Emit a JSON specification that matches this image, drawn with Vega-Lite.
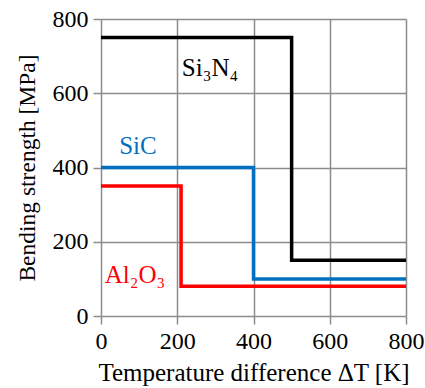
{
  "$schema": "https://vega.github.io/schema/vega-lite/v6.json",
  "autosize": {"type": "none"},
  "width": 305,
  "height": 297,
  "padding": {"left": 101, "top": 19, "right": 19, "bottom": 72},
  "background": "white",
  "config": {
    "view": {"stroke": null},
    "font": "Liberation Serif",
    "axis": {
      "grid": true,
      "gridColor": "#8c8c8c",
      "gridWidth": 1.5,
      "gridOpacity": 1,
      "domain": false,
      "tickColor": "#8c8c8c",
      "tickWidth": 1.5,
      "tickSize": 8,
      "labelFlush": false,
      "labelOverlap": false,
      "labelFont": "Liberation Serif",
      "labelFontSize": 24,
      "labelColor": "black",
      "titleFont": "Liberation Serif",
      "titleFontWeight": "normal",
      "titleColor": "black"
    }
  },
  "datasets": {
    "lines": [
      {"material": "Si3N4", "dT": 0, "strength": 750},
      {"material": "Si3N4", "dT": 500, "strength": 150},
      {"material": "Si3N4", "dT": 800, "strength": 150},
      {"material": "SiC", "dT": 0, "strength": 400},
      {"material": "SiC", "dT": 400, "strength": 100},
      {"material": "SiC", "dT": 800, "strength": 100},
      {"material": "Al2O3", "dT": 0, "strength": 350},
      {"material": "Al2O3", "dT": 210, "strength": 80},
      {"material": "Al2O3", "dT": 800, "strength": 80}
    ],
    "labels": [
      {"material": "Si3N4", "label": "Si₃N₄", "dT": 286, "strength": 646},
      {"material": "SiC", "label": "SiC", "dT": 97, "strength": 436},
      {"material": "Al2O3", "label": "Al₂O₃", "dT": 89, "strength": 88}
    ]
  },
  "layer": [
    {
      "data": {"name": "lines"},
      "mark": {"type": "line", "interpolate": "step-after", "strokeWidth": 3.5, "clip": false},
      "encoding": {
        "x": {"field": "dT", "type": "quantitative", "scale": {"domain": [0, 800], "nice": false},
          "axis": {"values": [0, 200, 400, 600, 800], "title": "Temperature difference ΔT [K]", "titleFontSize": 25, "labelPadding": 5, "titlePadding": 7}},
        "y": {"field": "strength", "type": "quantitative", "scale": {"domain": [0, 800], "nice": false},
          "axis": {"values": [0, 200, 400, 600, 800], "title": "Bending strength [MPa]", "titleFontSize": 23.5, "labelPadding": 5, "titlePadding": 13}},
        "color": {"field": "material", "type": "nominal",
          "scale": {"domain": ["Si3N4", "SiC", "Al2O3"], "range": ["#000000", "#0070C0", "#FF0000"]},
          "legend": null}
      }
    },
    {
      "data": {"name": "labels"},
      "mark": {"type": "text", "fontSize": 25, "font": "Liberation Serif", "align": "center", "baseline": "alphabetic"},
      "encoding": {
        "x": {"field": "dT", "type": "quantitative"},
        "y": {"field": "strength", "type": "quantitative"},
        "text": {"field": "label"},
        "color": {"field": "material", "type": "nominal",
          "scale": {"domain": ["Si3N4", "SiC", "Al2O3"], "range": ["#000000", "#0070C0", "#FF0000"]},
          "legend": null}
      }
    }
  ]
}
